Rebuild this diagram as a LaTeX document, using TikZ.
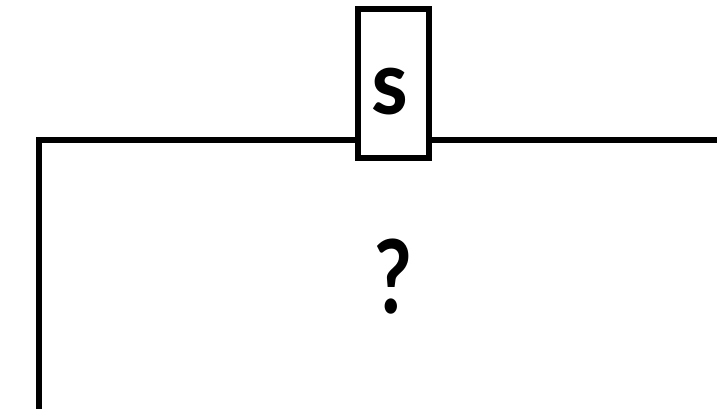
\documentclass[tikz,border=0pt]{standalone}
\usepackage{fontspec}
\setsansfont{Lato}[BoldFont={Lato Black}]
\newfontfamily\qfont{Lato Bold}
\usetikzlibrary{positioning}

\begin{document}
\begin{tikzpicture}[
  x=1pt, y=-1pt, font=\sffamily,
  wire/.style={line width=6pt, line join=miter},
  sbox/.style={draw, line width=6pt, fill=white, minimum width=71pt,
               minimum height=148pt, inner sep=0pt},
  slabel/.style={inner sep=0pt, font=\sffamily\bfseries\fontsize{63}{63}\selectfont},
  qmark/.style={inner sep=0pt, font=\qfont\fontsize{102}{102}\selectfont},
]
\useasboundingbox (0,0) rectangle (717,409);
% frame corner and its two open ends
\coordinate (corner) at (38.5,140);
\coordinate (east) at (717,140);
\coordinate (south) at (38.5,409);
\draw[wire] (south) -- (corner) -- (east);
% switch box on the top wire
\node[sbox] (s) at (393,83.5) {};
\node[slabel, anchor=base] (stext) at (390,115) {S};
% unknown content
\node[qmark, xscale=0.8, anchor=base] (q) at (393,313) {?};
\end{tikzpicture}
\end{document}
